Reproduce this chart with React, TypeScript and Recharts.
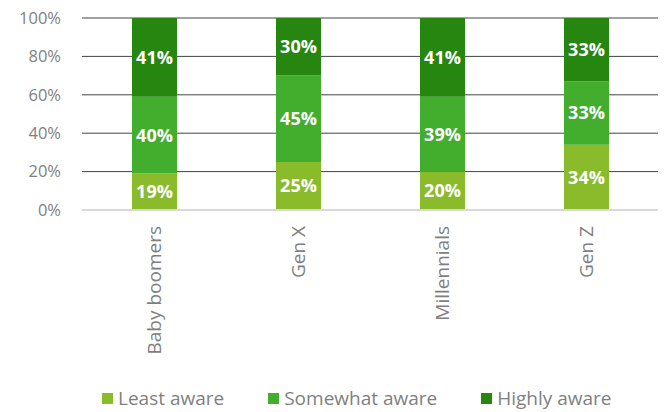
import React from "react";
import { BarChart, Bar, XAxis, YAxis, CartesianGrid, Legend, LabelList } from "recharts";

const categories = ["Baby boomers", "Gen X", "Millennials", "Gen Z"];
const leastAware = [19, 25, 20, 34];
const somewhatAware = [40, 45, 39, 33];
const highlyAware = [41, 30, 41, 33];
const yTicks = [0, 20, 40, 60, 80, 100];

const series = [
  { key: "least", name: "Least aware", color: "#8abb2a" },
  { key: "somewhat", name: "Somewhat aware", color: "#43ad2e" },
  { key: "highly", name: "Highly aware", color: "#26860f" },
];

const data = categories.map((c, i) => ({
  name: c,
  least: leastAware[i],
  somewhat: somewhatAware[i],
  highly: highlyAware[i],
}));

const FONT = "'Open Sans', sans-serif";

const LegendContent = () => (
  <div style={{ display: "flex", paddingLeft: 102, fontFamily: FONT, fontSize: 19, color: "#7f7f7f", lineHeight: "24px" }}>
    {series.map((s, i) => (
      <div key={s.key} style={{ display: "flex", alignItems: "center", marginRight: i < 2 ? 44 : 0 }}>
        <span style={{ display: "inline-block", width: 11, height: 11, background: s.color, marginRight: 5 }} />
        <span>{s.name}</span>
      </div>
    ))}
  </div>
);

const XTick = (props: any) => {
  const { x, y, payload } = props;
  return (
    <text x={x} y={y} transform={`rotate(-90, ${x}, ${y})`} textAnchor="end" dominantBaseline="central"
      fill="#7f7f7f" fontSize={19} fontFamily={FONT}>
      {payload.value}
    </text>
  );
};

export default function App() {
  return (
    <div style={{ position: "absolute", left: 0, top: 0, width: 667, height: 412, background: "#fff" }}>
      <BarChart width={667} height={412} data={data} margin={{ top: 18, right: 9, left: 0, bottom: 2 }}
        style={{ fontFamily: FONT }}>
        <CartesianGrid vertical={false} stroke="#444" strokeWidth={1} />
        <XAxis dataKey="name" interval={0} tickLine={false} axisLine={{ stroke: "#d9d9d9", strokeWidth: 2 }}
          height={176} tick={<XTick />} tickMargin={10} />
        <YAxis domain={[0, 100]} ticks={yTicks} tickFormatter={(v: number) => `${v}%`} width={82}
          axisLine={false} tickLine={false} tickSize={0} tickMargin={21}
          tick={{ fill: "#7f7f7f", fontSize: 16.5, fontFamily: FONT }} />
        <Legend verticalAlign="bottom" height={24} content={<LegendContent />} />
        {series.map((s) => (
          <Bar key={s.key} dataKey={s.key} name={s.name} stackId="a" fill={s.color} barSize={45} isAnimationActive={false}>
            <LabelList dataKey={s.key} position="center" formatter={(v: number) => `${v}%`}
              fill="#fff" fontSize={18} fontWeight="bold" fontFamily={FONT} />
          </Bar>
        ))}
      </BarChart>
    </div>
  );
}
